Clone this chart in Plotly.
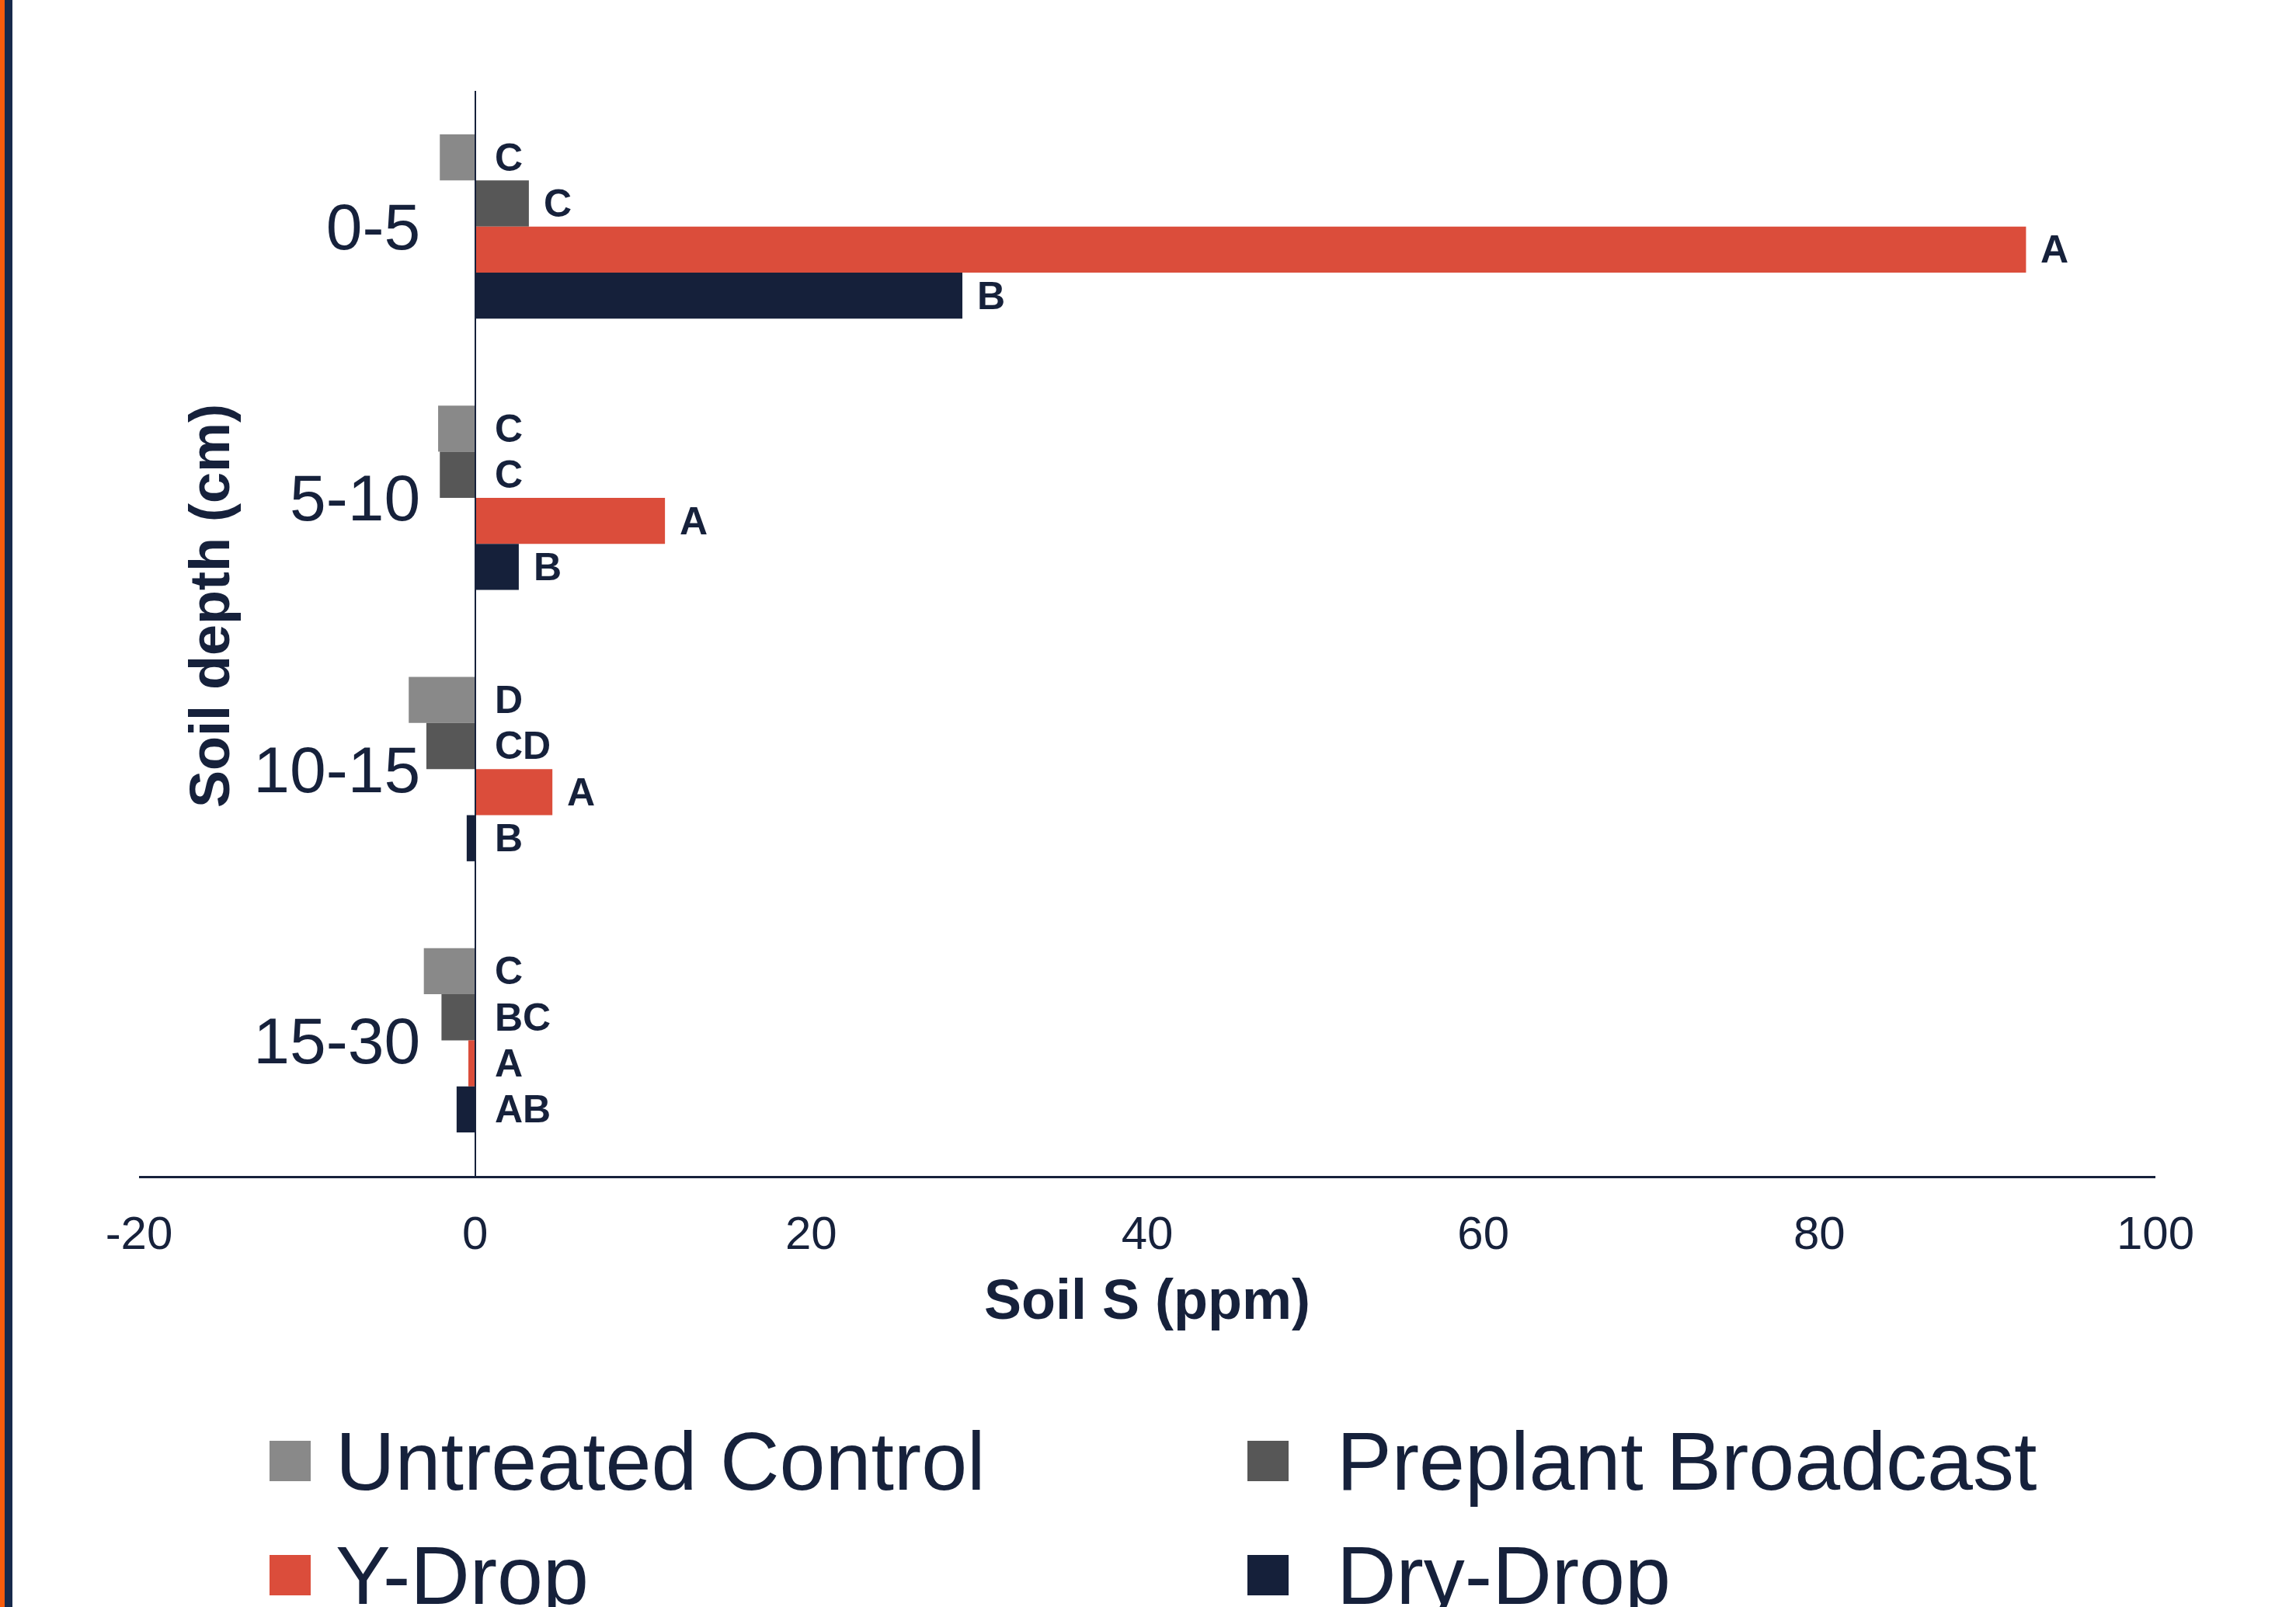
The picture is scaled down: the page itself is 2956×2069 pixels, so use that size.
import plotly.graph_objects as go

categories = ["0-5", "5-10", "10-15", "15-30"]
series_names = ["Untreated Control", "Preplant Broadcast", "Y-Drop", "Dry-Drop"]
untreated = [-2.1, -2.2, -3.95, -3.05]
preplant = [3.2, -2.1, -2.9, -2.0]
ydrop = [92.3, 11.3, 4.6, -0.4]
drydrop = [29.0, 2.6, -0.5, -1.1]
untreated_letters = ["C", "C", "D", "C"]
preplant_letters = ["C", "C", "CD", "BC"]
ydrop_letters = ["A", "A", "A", "A"]
drydrop_letters = ["B", "B", "B", "AB"]
x_ticks = [-20, 0, 20, 40, 60, 80, 100]
x_ticktext = ["-20", "0", "20", "40", "60", "80", "100"]

colors = ["#898989", "#575757", "#db4d3b", "#15203a"]
navy = "#16213b"
FONT = "Liberation Sans, Arial, sans-serif"

W, H = 2956, 2069
ML, MR, MT, MB = 179, 181, 117, 555
PW, PH = W - ML - MR, H - MT - MB

def px_x(px):
    return (px - ML) / PW

def px_y(py):
    return (H - MB - py) / PH

values = [untreated, preplant, ydrop, drydrop]
letters = [untreated_letters, preplant_letters, ydrop_letters, drydrop_letters]

fig = go.Figure()
for name, vals, col in zip(series_names, values, colors):
    fig.add_trace(go.Bar(y=categories, x=vals, orientation="h", name=name,
                         marker=dict(color=col, line=dict(width=0)), showlegend=False))

bargap = 0.32
bw = (1 - bargap) / 4
annotations = []
for s, (vals, labs) in enumerate(zip(values, letters)):
    for i, (v, t) in enumerate(zip(vals, labs)):
        annotations.append(dict(x=max(v, 0), y=i + (s - 1.5) * bw, xref="x", yref="y",
                                text="<b>" + t + "</b>", showarrow=False,
                                xanchor="left", yanchor="middle",
                                xshift=17 if v > 0 else 23,
                                font=dict(family=FONT, size=50, color=navy)))

# y-axis title
annotations.append(dict(x=px_x(270), y=px_y(780), xref="paper", yref="paper",
                        text="<b>Soil depth (cm)</b>", textangle=-90, showarrow=False,
                        xanchor="center", yanchor="middle",
                        font=dict(family=FONT, size=72, color=navy)))

# manual legend
leg_rows = [1881, 2028]
leg_sq_x = [347, 1606]
leg_tx_x = [430, 1719]
shapes = []
for k, (name, col) in enumerate(zip(series_names, colors)):
    r, c = divmod(k, 2)
    cy = leg_rows[r]
    shapes.append(dict(type="rect", xref="paper", yref="paper",
                       x0=px_x(leg_sq_x[c]), x1=px_x(leg_sq_x[c] + 53),
                       y0=px_y(cy + 26), y1=px_y(cy - 26),
                       fillcolor=col, line=dict(width=0)))
    annotations.append(dict(x=px_x(leg_tx_x[c]), y=px_y(cy), xref="paper", yref="paper",
                            text=name, showarrow=False, xanchor="left", yanchor="middle",
                            font=dict(family=FONT, size=106, color=navy)))

# left stripes
shapes.append(dict(type="rect", xref="paper", yref="paper", x0=px_x(0), x1=px_x(6),
                   y0=px_y(H + 10), y1=px_y(-10), fillcolor="#f95c0c", line=dict(width=0), layer="above"))
shapes.append(dict(type="rect", xref="paper", yref="paper", x0=px_x(6), x1=px_x(16),
                   y0=px_y(H + 10), y1=px_y(-10), fillcolor="#17294b", line=dict(width=0), layer="above"))

fig.update_layout(
    width=W, height=H,
    margin=dict(l=ML, r=MR, t=MT, b=MB, autoexpand=False),
    paper_bgcolor="white", plot_bgcolor="white",
    barmode="group", bargap=bargap, bargroupgap=0,
    font=dict(family=FONT, color=navy),
    annotations=annotations, shapes=shapes,
    xaxis=dict(range=[-20, 100], tickvals=x_ticks, ticktext=x_ticktext,
               showgrid=False, zeroline=False,
               showline=True, linecolor=navy, linewidth=3,
               ticks="outside", ticklen=19, tickcolor="rgba(0,0,0,0)",
               tickfont=dict(family=FONT, size=60, color=navy),
               title=dict(text="<b>Soil S (ppm)</b>", font=dict(family=FONT, size=72, color=navy),
                          standoff=28),
               automargin=False, fixedrange=True),
    yaxis=dict(type="category", categoryorder="array", categoryarray=categories,
               range=[3.5, -0.5], anchor="free", position=px_x(612),
               showgrid=False, zeroline=False, showline=True, linecolor=navy, linewidth=2,
               ticks="outside", ticklen=53, tickcolor="rgba(0,0,0,0)",
               tickfont=dict(family=FONT, size=84, color=navy),
               automargin=False, fixedrange=True),
)

fig.write_html("out.html", config={"displayModeBar": False},
               post_script="document.body.style.margin='0px';")
